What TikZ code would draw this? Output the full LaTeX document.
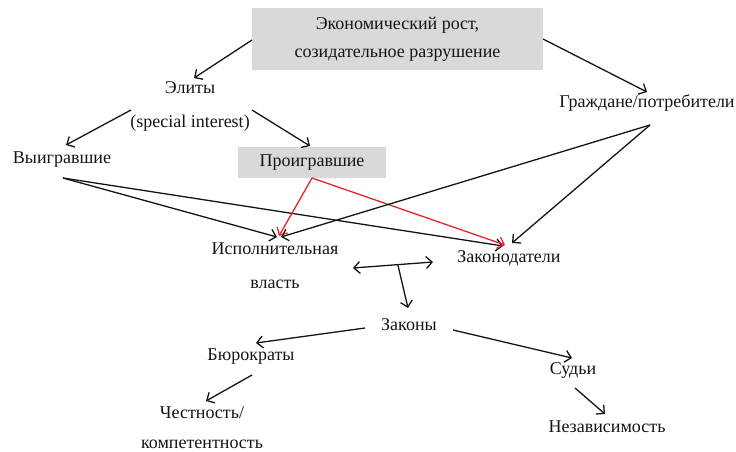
\documentclass[tikz,border=0pt]{standalone}
\usepackage{fontspec}
\setmainfont{Liberation Serif}
\usetikzlibrary{arrows.meta,calc}
\definecolor{boxgray}{RGB}{217,217,217}
\definecolor{txt}{RGB}{20,20,20}
\definecolor{redline}{RGB}{230,35,40}
\tikzset{
  lbl/.style={inner sep=0pt, text=txt, font=\fontsize{18}{28}\selectfont, align=center},
  graybox/.style={lbl, fill=boxgray},
  arr/.style={line width=1.3pt, draw=txt, -{Straight Barb[length=6pt,width=12pt,line width=1.3pt]}},
  redarr/.style={arr, draw=redline},
  dblarr/.style={line width=1.3pt, draw=txt, {Straight Barb[length=6pt,width=12pt,line width=1.3pt]}-{Straight Barb[length=6pt,width=12pt,line width=1.3pt]}}
}
\begin{document}
\begin{tikzpicture}[x=1pt,y=-1pt]
\useasboundingbox (0,0) rectangle (736,452);
% nodes
\node[graybox, minimum width=291pt, minimum height=62pt] (top) at (397.5,39) {Экономический рост,\\созидательное разрушение};
\node[lbl, font=\fontsize{18}{34}\selectfont] (elite) at (190,106) {Элиты\\(special interest)};
\node[lbl] (win) at (62,159.5) {Выигравшие};
\node[graybox, minimum width=148pt, minimum height=31pt] (lose) at (312,162.5) {Проигравшие};
\node[lbl] (cit) at (647,103) {Граждане/потребители};
\node[lbl, font=\fontsize{18}{34}\selectfont] (exec) at (275,266) {Исполнительная\\власть};
\node[lbl] (leg) at (509,258.5) {Законодатели};
\node[lbl] (laws) at (409,325) {Законы};
\node[lbl] (bur) at (251,356.5) {Бюрократы};
\node[lbl] (judg) at (573,370) {Судьи};
\node[lbl, font=\fontsize{18}{30}\selectfont] (hon) at (202,428) {Честность/\\компетентность};
\node[lbl] (ind) at (607,426.5) {Независимость};
% connectors
\draw[arr] ($(top)+(-145.5,1)$) -- ($(elite)+(4,-28)$);
\draw[arr] ($(top)+(145.5,0)$) -- ($(cit)+(0,-11)$);
\draw[arr] ($(elite)+(-59,4)$) -- ($(win)+(4,-14.5)$);
\draw[arr] ($(elite)+(62,4)$) -- ($(lose)+(-2,-16.5)$);
\draw[arr] ($(win)+(1,18.5)$) -- ($(exec)+(2,-29)$);
\draw[arr] ($(win)+(1,18.5)$) -- ($(leg)+(-6,-12.5)$);
\draw[redarr] ($(lose)+(0,15.5)$) -- ($(exec)+(4,-30)$);
\draw[redarr] ($(lose)+(0,15.5)$) -- ($(leg)+(-4,-13.5)$);
\draw[arr] ($(cit)+(3,22)$) -- ($(exec)+(6,-29)$);
\draw[arr] ($(cit)+(3,22)$) -- ($(leg)+(3,-15.5)$);
\coordinate (dl) at ($(exec)+(78,2)$);
\coordinate (dr) at ($(leg)+(-76,3.5)$);
\draw[dblarr] (dl) -- (dr);
\draw[arr] ($(dl)!0.56!(dr)$) -- ($(laws)+(-1,-17)$);
\draw[arr] ($(laws)+(-44,3)$) -- ($(bur)+(5,-13.5)$);
\draw[arr] ($(laws)+(44,5)$) -- ($(judg)+(-1,-12)$);
\draw[arr] ($(bur)+(1,18.5)$) -- ($(hon)+(4,-27)$);
\draw[arr] ($(judg)+(2,18)$) -- ($(ind)+(-2,-12.5)$);
\end{tikzpicture}
\end{document}
